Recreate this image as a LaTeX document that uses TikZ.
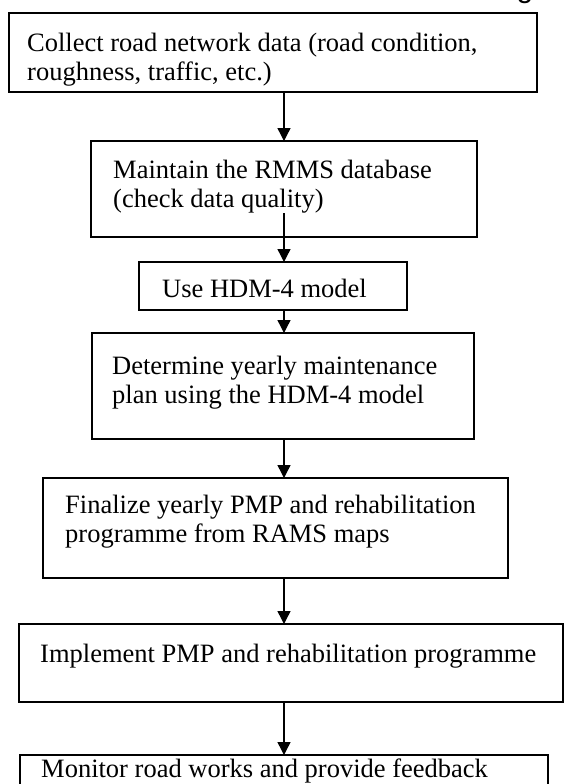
\documentclass[tikz,border=0pt]{standalone}
\usepackage{fontspec}
\setmainfont{Liberation Serif}
\newfontfamily\headfont{Liberation Sans}
\usetikzlibrary{arrows.meta,calc}

\begin{document}
\begin{tikzpicture}[x=1pt,y=-1pt,
  stepbox/.style={draw, line width=1.6pt, inner sep=0pt, outer sep=0pt, anchor=north west},
  linetxt/.style={anchor=base west, inner sep=0pt, font=\fontsize{26.5}{30}\selectfont},
  flow/.style={line width=1.4pt, -{Triangle[width=13pt,length=13pt]}}]

  \useasboundingbox (0,0) rectangle (564,784);

  % last glyph of the heading, mostly above the page edge
  \begin{scope}
    \clip (0,0) rectangle (564,784);
    \node[anchor=base, inner sep=0pt, font=\headfont\fontsize{30}{30}\selectfont] (head) at (525,-2) {g};
  \end{scope}

  % process boxes
  \node[stepbox, minimum width=528pt, minimum height=79pt]  (collect)   at (9,13)   {};
  \node[stepbox, minimum width=386pt, minimum height=96pt]  (maintain)  at (91,141) {};
  \node[stepbox, minimum width=268pt, minimum height=48pt]  (hdm)       at (139,262){};
  \node[stepbox, minimum width=382pt, minimum height=106pt] (determine) at (92,333) {};
  \node[stepbox, minimum width=465pt, minimum height=100pt] (finalize)  at (43,478) {};
  \node[stepbox, minimum width=544pt, minimum height=78pt]  (implement) at (19,624) {};
  \node[stepbox, minimum width=528pt, minimum height=70pt]  (monitor)   at (20,755) {};

  % box texts, one node per printed line
  \node[linetxt] (collectA)   at (27,52)  {Collect road network data (road condition,};
  \node[linetxt] (collectB)   at (27,81)  {roughness, traffic, etc.)};
  \node[linetxt] (maintainA)  at (113,178) {Maintain the RMMS database};
  \node[linetxt] (maintainB)  at (113,207) {(check data quality)};
  \node[linetxt] (hdmA)       at (162,297) {Use HDM-4 model};
  \node[linetxt] (determineA) at (112,374) {Determine yearly maintenance};
  \node[linetxt] (determineB) at (112,403) {plan using the HDM-4 model};
  \node[linetxt] (finalizeA)  at (65,513)  {Finalize yearly PMP and rehabilitation};
  \node[linetxt] (finalizeB)  at (65,542)  {programme from RAMS maps};
  \node[linetxt] (implementA) at (40,662)  {Implement PMP and rehabilitation programme};
  \node[linetxt] (monitorA)   at (41,777)  {Monitor road works and provide feedback};

  % vertical axis shared by all connectors
  \coordinate (axis) at (284,0);
  \coordinate (maintainOut) at (284,213);

  \draw[flow] (collect.south -| axis)   -- (maintain.north -| axis);
  \draw[flow] (maintainOut)             -- (hdm.north -| axis);
  \draw[flow] (hdm.south -| axis)       -- (determine.north -| axis);
  \draw[flow] (determine.south -| axis) -- (finalize.north -| axis);
  \draw[flow] (finalize.south -| axis)  -- (implement.north -| axis);
  \draw[flow] (implement.south -| axis) -- (monitor.north -| axis);
\end{tikzpicture}
\end{document}
